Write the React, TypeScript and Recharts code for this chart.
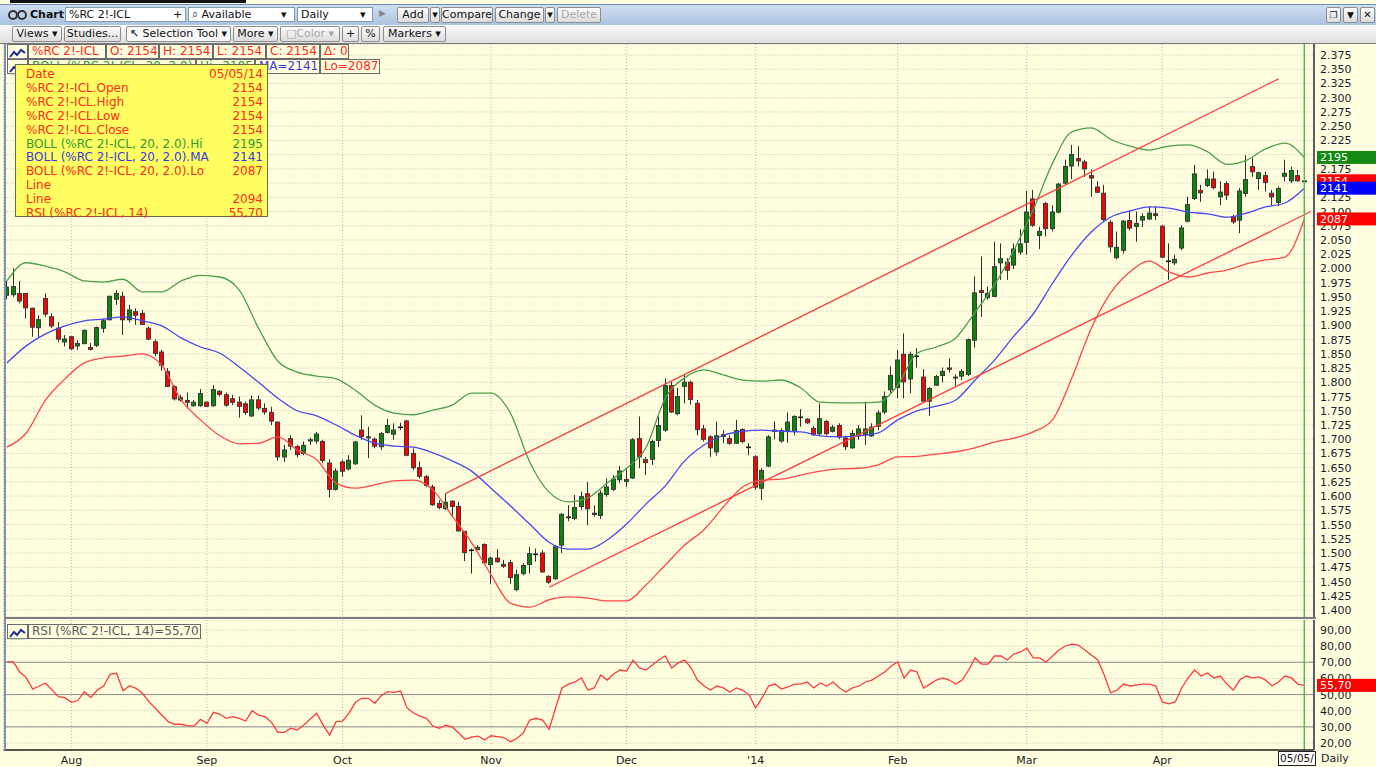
import React from "react";
import { Bar, CartesianGrid, ComposedChart, Line, ReferenceLine, XAxis, YAxis } from "recharts";

// daily OHLC, late Jul 2013 -> 05/05/14
const OPEN = [
  1952, 1953, 1957, 1957, 1931, 1895, 1948, 1916, 1896, 1870,
  1881, 1863, 1867, 1862, 1864, 1894, 1909, 1945, 1952, 1909,
  1925, 1922, 1896, 1872, 1854, 1820, 1793, 1768, 1769, 1758,
  1758, 1766, 1758, 1785, 1779, 1772, 1766, 1763, 1740, 1770,
  1755, 1748, 1731, 1668, 1702, 1688, 1674, 1696, 1696, 1697,
  1659, 1611, 1661, 1647, 1656, 1717, 1705, 1701, 1686, 1711,
  1708, 1722, 1733, 1676, 1651, 1635, 1617, 1588, 1577, 1592,
  1583, 1539, 1505, 1505, 1516, 1479, 1492, 1481, 1484, 1435,
  1463, 1479, 1498, 1501, 1460, 1454, 1513, 1563, 1560, 1581,
  1605, 1571, 1565, 1602, 1611, 1628, 1625, 1631, 1702, 1665,
  1664, 1697, 1715, 1795, 1744, 1792, 1801, 1764, 1719, 1705,
  1677, 1709, 1702, 1692, 1718, 1686, 1670, 1613, 1652, 1713,
  1696, 1713, 1713, 1739, 1736, 1720, 1709, 1732, 1713, 1725,
  1703, 1684, 1705, 1707, 1705, 1722, 1747, 1786, 1790, 1850,
  1805, 1846, 1810, 1766, 1794, 1811, 1826, 1810, 1810, 1813,
  1873, 1962, 1948, 1950, 2009, 2012, 2005, 2028, 2045, 2123,
  2057, 2115, 2069, 2098, 2149, 2179, 2194, 2188, 2164, 2144,
  2133, 2082, 2018, 2031, 2085, 2073, 2084, 2086, 2097, 2075,
  2013, 2009, 2035, 2082, 2122, 2138, 2145, 2158, 2125, 2150,
  2092, 2084, 2131, 2180, 2157, 2164, 2133, 2115, 2161, 2153,
  2164, 2154
];
const HIGH = [
  1978, 2000, 1978, 1957, 1931, 1918, 1956, 1921, 1906, 1883,
  1881, 1874, 1893, 1869, 1898, 1912, 1952, 1962, 1959, 1936,
  1930, 1927, 1898, 1875, 1857, 1825, 1795, 1778, 1782, 1769,
  1788, 1766, 1795, 1786, 1782, 1778, 1775, 1766, 1777, 1777,
  1763, 1757, 1731, 1690, 1707, 1690, 1696, 1703, 1713, 1699,
  1665, 1649, 1664, 1672, 1697, 1742, 1722, 1703, 1713, 1736,
  1728, 1729, 1734, 1684, 1661, 1637, 1620, 1593, 1605, 1593,
  1590, 1539, 1508, 1514, 1517, 1494, 1507, 1488, 1488, 1471,
  1482, 1511, 1508, 1505, 1461, 1514, 1570, 1584, 1602, 1608,
  1625, 1584, 1610, 1631, 1637, 1653, 1647, 1702, 1740, 1669,
  1699, 1740, 1807, 1801, 1790, 1813, 1803, 1769, 1725, 1707,
  1731, 1716, 1707, 1734, 1719, 1693, 1672, 1649, 1707, 1731,
  1719, 1747, 1742, 1753, 1737, 1723, 1763, 1734, 1725, 1728,
  1706, 1716, 1725, 1766, 1728, 1751, 1784, 1828, 1857, 1886,
  1854, 1860, 1823, 1792, 1813, 1826, 1842, 1814, 1823, 1877,
  1986, 2021, 1968, 2047, 2044, 2018, 2044, 2069, 2136, 2138,
  2073, 2117, 2111, 2150, 2191, 2217, 2215, 2191, 2174, 2153,
  2147, 2085, 2065, 2085, 2102, 2100, 2097, 2109, 2109, 2076,
  2044, 2024, 2076, 2126, 2182, 2147, 2174, 2170, 2153, 2153,
  2094, 2141, 2199, 2194, 2170, 2170, 2138, 2144, 2191, 2179,
  2173, 2154
];
const LOW = [
  1946, 1950, 1939, 1912, 1880, 1879, 1915, 1895, 1871, 1863,
  1857, 1857, 1867, 1856, 1862, 1887, 1909, 1936, 1883, 1905,
  1901, 1901, 1874, 1846, 1820, 1792, 1768, 1766, 1754, 1757,
  1757, 1757, 1757, 1775, 1757, 1760, 1738, 1743, 1739, 1751,
  1743, 1725, 1662, 1660, 1681, 1668, 1672, 1690, 1692, 1658,
  1598, 1610, 1634, 1645, 1655, 1699, 1667, 1684, 1681, 1710,
  1699, 1716, 1670, 1646, 1631, 1616, 1583, 1577, 1576, 1564,
  1538, 1486, 1464, 1505, 1480, 1446, 1483, 1474, 1446, 1433,
  1461, 1464, 1485, 1465, 1446, 1453, 1500, 1556, 1558, 1576,
  1549, 1564, 1560, 1599, 1609, 1623, 1616, 1630, 1649, 1637,
  1655, 1686, 1713, 1746, 1742, 1763, 1761, 1707, 1696, 1669,
  1671, 1693, 1690, 1692, 1693, 1672, 1611, 1593, 1651, 1700,
  1694, 1694, 1707, 1722, 1727, 1706, 1707, 1707, 1712, 1700,
  1681, 1683, 1699, 1690, 1704, 1716, 1744, 1781, 1772, 1772,
  1781, 1826, 1766, 1741, 1794, 1800, 1817, 1794, 1804, 1811,
  1861, 1915, 1945, 1950, 1980, 1980, 1999, 2024, 2024, 2073,
  2034, 2056, 2065, 2097, 2147, 2157, 2179, 2161, 2126, 2132,
  2082, 2028, 2016, 2026, 2067, 2047, 2073, 2085, 2085, 2018,
  1980, 2006, 2032, 2081, 2120, 2117, 2143, 2139, 2111, 2120,
  2078, 2062, 2126, 2161, 2138, 2135, 2111, 2110, 2153, 2150,
  2153, 2154
];
const CLOSE = [
  1968, 1969, 1942, 1930, 1896, 1911, 1919, 1898, 1875, 1877,
  1858, 1869, 1892, 1857, 1897, 1909, 1952, 1957, 1909, 1928,
  1917, 1901, 1875, 1850, 1829, 1792, 1770, 1774, 1764, 1766,
  1781, 1757, 1788, 1778, 1759, 1764, 1757, 1746, 1770, 1754,
  1747, 1731, 1668, 1682, 1687, 1672, 1690, 1700, 1710, 1662,
  1611, 1645, 1643, 1664, 1696, 1704, 1704, 1687, 1711, 1725,
  1717, 1722, 1671, 1649, 1634, 1618, 1584, 1579, 1590, 1581,
  1538, 1500, 1505, 1511, 1482, 1492, 1484, 1476, 1456, 1463,
  1479, 1500, 1498, 1466, 1448, 1512, 1569, 1563, 1581, 1600,
  1577, 1567, 1606, 1617, 1631, 1645, 1630, 1700, 1668, 1658,
  1697, 1725, 1795, 1747, 1776, 1801, 1769, 1716, 1699, 1684,
  1707, 1704, 1692, 1716, 1695, 1686, 1615, 1646, 1705, 1717,
  1716, 1731, 1741, 1739, 1728, 1707, 1737, 1709, 1722, 1703,
  1686, 1711, 1719, 1719, 1722, 1747, 1776, 1813, 1840, 1800,
  1850, 1846, 1766, 1790, 1811, 1820, 1822, 1807, 1820, 1876,
  1958, 1957, 1957, 2004, 2018, 1996, 2035, 2044, 2100, 2075,
  2066, 2069, 2100, 2149, 2180, 2201, 2188, 2174, 2158, 2133,
  2085, 2037, 2038, 2084, 2070, 2080, 2092, 2098, 2092, 2019,
  2013, 2017, 2072, 2113, 2167, 2132, 2158, 2141, 2135, 2128,
  2081, 2137, 2157, 2169, 2169, 2150, 2125, 2141, 2168, 2173,
  2153, 2154
];

// Bollinger (20, 2.0), read every third session
const BAND_IDX = Array.from({ length: 68 }, (_, k) => k * 3);
const BOLL_HI = [
  1978, 2010, 2004, 1994, 1978, 1976, 1981, 1959, 1959, 1978, 1988, 1985, 1962, 1895, 1837, 1818, 1811,
  1806, 1786, 1760, 1746, 1743, 1751, 1760, 1781, 1781, 1746, 1660, 1607, 1590, 1597, 1623, 1649, 1685,
  1772, 1808, 1822, 1813, 1804, 1802, 1804, 1790, 1765, 1764, 1764, 1765, 1795, 1851, 1862, 1878, 1923,
  1971, 2032, 2103, 2185, 2240, 2247, 2227, 2215, 2208, 2215, 2217, 2205, 2183, 2190, 2210, 2220, 2195
];
const BOLL_MA = [
  1834, 1864, 1885, 1899, 1908, 1911, 1915, 1908, 1899, 1878, 1862, 1851, 1827, 1800, 1772, 1750, 1741,
  1725, 1707, 1693, 1688, 1686, 1676, 1662, 1644, 1614, 1583, 1551, 1519, 1507, 1507, 1523, 1551, 1586,
  1618, 1662, 1690, 1707, 1714, 1716, 1714, 1713, 1706, 1704, 1706, 1711, 1734, 1750, 1758, 1769, 1804,
  1839, 1881, 1920, 1974, 2024, 2064, 2090, 2101, 2108, 2106, 2099, 2096, 2090, 2097, 2108, 2115, 2141
];
const BOLL_LO = [
  1686, 1711, 1769, 1806, 1834, 1843, 1846, 1850, 1830, 1769, 1734, 1706, 1692, 1693, 1704, 1681, 1664,
  1623, 1614, 1620, 1627, 1628, 1611, 1565, 1518, 1462, 1412, 1405, 1418, 1423, 1421, 1416, 1416, 1444,
  1479, 1514, 1541, 1581, 1616, 1628, 1630, 1637, 1644, 1648, 1649, 1655, 1669, 1670, 1674, 1678, 1685,
  1695, 1702, 1713, 1734, 1808, 1895, 1957, 1994, 2013, 1994, 1985, 1992, 1997, 2008, 2015, 2020, 2087
];

const RSI = [
  70.4, 70.2, 64.0, 60.5, 53.4, 55.3, 57.0, 52.8, 48.7, 48.1,
  45.2, 46.3, 51.8, 48.1, 52.8, 55.3, 62.6, 63.2, 52.4, 55.5,
  53.9, 50.8, 45.6, 41.5, 37.3, 33.2, 31.6, 31.6, 30.7, 30.5,
  34.7, 32.2, 39.0, 37.8, 35.3, 36.3, 35.3, 33.6, 40.0, 37.3,
  36.3, 32.8, 26.6, 26.6, 29.1, 28.0, 31.1, 34.9, 38.4, 31.1,
  24.9, 33.2, 33.6, 38.4, 45.2, 47.7, 47.7, 44.6, 49.3, 51.8,
  51.4, 52.2, 41.7, 38.6, 36.7, 35.3, 30.5, 29.1, 31.1, 29.9,
  26.2, 22.3, 23.7, 24.3, 21.9, 24.5, 24.0, 23.4, 20.8, 22.8,
  26.2, 34.2, 35.3, 34.2, 28.5, 41.7, 54.1, 56.5, 57.8, 60.3,
  52.8, 54.1, 62.1, 59.0, 62.7, 65.2, 64.6, 71.4, 66.5, 65.2,
  68.3, 71.4, 73.9, 66.5, 69.6, 71.4, 66.5, 59.0, 55.3, 52.8,
  55.3, 54.1, 51.6, 54.1, 52.8, 49.7, 41.7, 47.9, 55.3, 56.5,
  53.4, 54.7, 56.5, 56.5, 57.8, 54.1, 57.2, 55.3, 57.8, 54.1,
  51.6, 54.1, 55.3, 57.8, 59.0, 61.5, 64.0, 67.7, 70.2, 60.3,
  65.2, 64.0, 54.1, 56.5, 59.0, 60.3, 59.0, 56.5, 59.0, 65.2,
  72.7, 68.9, 68.9, 73.9, 73.9, 71.4, 75.1, 76.4, 78.8, 72.7,
  72.7, 70.2, 73.9, 77.6, 80.1, 81.3, 80.7, 77.6, 74.5, 71.4,
  62.1, 51.0, 52.8, 56.5, 55.3, 55.9, 56.5, 56.5, 55.3, 45.4,
  44.2, 45.4, 54.1, 60.3, 65.2, 61.5, 63.4, 60.3, 61.5, 56.5,
  52.8, 59.0, 61.5, 60.3, 60.9, 59.0, 55.3, 57.8, 61.5, 60.3,
  56.5, 55.7
];

// hand-drawn trend lines: [session, price]
const TREND_UPPER = [[68, 1605], [197, 2333]];
const TREND_LOWER = [[84, 1440], [202, 2100]];

// last-value tags on the price scale
const PRICE_TAGS: [number, string, string][] = [
  [2195, "2195", "#138a13"],
  [2154, "2154", "#ff0000"],
  [2141, "2141", "#0000ff"],
  [2087, "2087", "#ff0000"]
];
const RSI_TAG: [number, string, string] = [55.7, "55,70", "#ff0000"];

const MONTH_TICKS = [10, 31, 52, 75, 96, 116, 138, 158, 179];
const MONTH_LABELS = ["Aug", "Sep", "Oct", "Nov", "Dec", "'14", "Feb", "Mar", "Apr"];
const PRICE_TICKS = Array.from({ length: 40 }, (_, k) => 1400 + k * 25);
const RSI_TICKS = [20, 30, 40, 50, 60, 70, 80, 90];
const RSI_SOLID = [30, 50, 70];
const LAST = OPEN.length - 1;

const BG = "#ffffe0";
const FONT = "'DejaVu Sans', Verdana, sans-serif";
const PLOT_LEFT = 3.62;
const AXIS_W = 62;
const PRICE_DOMAIN = [1387.7, 2394.3];
const RSI_DOMAIN = [15.66, 96.2];

type Row = {
  i: number;
  open?: number;
  high?: number;
  low?: number;
  close?: number;
  rsi?: number;
  hi?: number;
  ma?: number;
  lo?: number;
};

const ROWS: Row[] = Array.from({ length: OPEN.length + 1 }, (_, i) =>
  i < OPEN.length
    ? { i, open: OPEN[i], high: HIGH[i], low: LOW[i], close: CLOSE[i], rsi: RSI[i] }
    : { i }
);
BAND_IDX.forEach((idx, k) => {
  ROWS[idx].hi = BOLL_HI[k];
  ROWS[idx].ma = BOLL_MA[k];
  ROWS[idx].lo = BOLL_LO[k];
});

function fmtPrice(v: number) {
  return `${Math.floor(v / 1000)}.${String(v % 1000).padStart(3, "0")}`;
}

function Candle(props: any) {
  const { x, y, width, height, payload } = props;
  if (!payload || payload.high == null) return null;
  const { open, close, high, low } = payload;
  const k = high > low ? height / (high - low) : 0;
  const at = (v: number) => y + (high - v) * k;
  const px = Math.round(x + width / 2 - 0.5);
  const top = at(Math.max(open, close));
  const bot = at(Math.min(open, close));
  if (open === close) {
    return (
      <g>
        <rect x={px} y={y} width={1} height={Math.max(height, 1)} fill="#2a2a2a" />
        <rect x={px - 2} y={Math.round(top) - 0.5} width={5} height={1.6} fill="#1a1a1a" />
      </g>
    );
  }
  const up = close > open;
  return (
    <g>
      <rect x={px} y={y} width={1} height={height} fill="#2e2e2e" />
      <rect
        x={px - 1.5}
        y={top + 0.5}
        width={4}
        height={Math.max(bot - top - 1, 1)}
        fill={up ? "#0b860b" : "#ff0000"}
        stroke="#3a3a3a"
        strokeWidth={1}
      />
    </g>
  );
}

function PriceTick({ y, payload }: any) {
  return (
    <text x={1320} y={y + 4} fontSize={11} fontFamily={FONT} fill="#1c1c2c">
      {fmtPrice(payload.value)}
    </text>
  );
}

function RsiTick({ y, payload }: any) {
  return (
    <text x={1320} y={y + 4} fontSize={11} fontFamily={FONT} fill="#1c1c2c">
      {payload.value.toFixed(2).replace(".", ",")}
    </text>
  );
}

function MonthTick({ x, y, payload }: any) {
  return (
    <text x={x} y={y + 12} textAnchor="middle" fontSize={11} fontFamily={FONT} fill="#1a1a2a">
      {MONTH_LABELS[MONTH_TICKS.indexOf(payload.value)]}
    </text>
  );
}

function PriceTag({ viewBox, text, fill }: any) {
  if (!viewBox) return null;
  const y = viewBox.y;
  return (
    <g>
      <rect x={1317} y={y - 6.5} width={59} height={13} fill={fill} />
      <text x={1320} y={y + 4} fontSize={11} fontFamily={FONT} fill="#ffffff">
        {text}
      </text>
    </g>
  );
}

// transparent chart laid over a panel so the value tags sit above the scale labels
function TagOverlay({ top, height, domain, tags }: any) {
  return (
    <div style={{ position: "absolute", left: 0, top, pointerEvents: "none" }}>
      <ComposedChart width={1376} height={height} data={ROWS} margin={{ top: 0, right: 0, bottom: 0, left: PLOT_LEFT }}>
        <XAxis dataKey="i" type="category" scale="band" hide />
        <YAxis
          orientation="right"
          width={AXIS_W}
          domain={domain}
          allowDataOverflow
          tick={false}
          tickLine={false}
          axisLine={false}
        />
        {tags.map(([v, text, fill]: [number, string, string]) => (
          <ReferenceLine key={text} y={v} stroke="none" label={<PriceTag text={text} fill={fill} />} />
        ))}
      </ComposedChart>
    </div>
  );
}

function Btn({ left, top, width, height = 16, children, disabled, style }: any) {
  return (
    <div
      style={{
        position: "absolute",
        left,
        top,
        width,
        height,
        boxSizing: "border-box",
        border: "1px solid #8d8d8d",
        borderRadius: 2,
        background: "linear-gradient(#fefefe, #dcdcdc)",
        fontSize: 11,
        lineHeight: `${height - 2}px`,
        color: disabled ? "#a8a8a8" : "#111",
        textAlign: "center",
        whiteSpace: "nowrap",
        overflow: "hidden",
        ...style
      }}
    >
      {children}
    </div>
  );
}

function Field({ left, top, width, children }: any) {
  return (
    <div
      style={{
        position: "absolute",
        left,
        top,
        width,
        height: 15,
        boxSizing: "border-box",
        border: "1px solid #7f9db9",
        background: "#ffffff",
        fontSize: 11,
        lineHeight: "13px",
        paddingLeft: 3,
        color: "#111",
        whiteSpace: "nowrap",
        overflow: "hidden"
      }}
    >
      {children}
    </div>
  );
}

function LegendBox({ left, top, width, color, children }: any) {
  return (
    <div
      style={{
        position: "absolute",
        left,
        top,
        width,
        height: 15,
        boxSizing: "border-box",
        border: "1px solid #6b6b6b",
        background: BG,
        fontSize: 12,
        lineHeight: "13px",
        paddingLeft: 3,
        color,
        whiteSpace: "nowrap",
        overflow: "hidden"
      }}
    >
      {children}
    </div>
  );
}

function StudyIcon({ left, top }: any) {
  return (
    <div
      style={{
        position: "absolute",
        left,
        top,
        width: 21,
        height: 15,
        boxSizing: "border-box",
        border: "1px solid #6b6b6b",
        background: BG
      }}
    >
      <svg width={19} height={13}>
        <polyline points="2,10 6,5 9,8 13,3 17,6" fill="none" stroke="#1b2a9a" strokeWidth={2} />
        <line x1={2} y1={12} x2={17} y2={12} stroke="#9aa" strokeWidth={1} />
      </svg>
    </div>
  );
}

const TOOLTIP_ROWS: [string, string, string][] = [
  ["Date", "05/05/14", "#ff2a1a"],
  ["%RC 2!-ICL.Open", "2154", "#ff2a1a"],
  ["%RC 2!-ICL.High", "2154", "#ff2a1a"],
  ["%RC 2!-ICL.Low", "2154", "#ff2a1a"],
  ["%RC 2!-ICL.Close", "2154", "#ff2a1a"],
  ["BOLL (%RC 2!-ICL, 20, 2.0).Hi", "2195", "#2f9a2f"],
  ["BOLL (%RC 2!-ICL, 20, 2.0).MA", "2141", "#3a3ad8"],
  ["BOLL (%RC 2!-ICL, 20, 2.0).Lo", "2087", "#ff2a1a"],
  ["Line", "", "#ff2a1a"],
  ["Line", "2094", "#ff2a1a"],
  ["RSI (%RC 2!-ICL, 14)", "55,70", "#ff2a1a"]
];

export default function App() {
  return (
    <div
      style={{
        position: "fixed",
        left: 0,
        top: 0,
        width: 1376,
        height: 767,
        overflow: "hidden",
        background: BG,
        fontFamily: FONT
      }}
    >
      {/* toolbar row 1 */}
      <div style={{ position: "absolute", left: 10, top: 0, width: 236, height: 3, background: "#111" }} />
      <div
        style={{
          position: "absolute",
          left: 0,
          top: 4,
          width: 1376,
          height: 21,
          background: "linear-gradient(#cfdff1, #a9c2e0)",
          borderTop: "1px solid #6f8fb8"
        }}
      />
      <svg style={{ position: "absolute", left: 8, top: 9 }} width={20} height={12}>
        <circle cx={5} cy={6} r={4} fill="none" stroke="#333" strokeWidth={2} />
        <circle cx={14} cy={6} r={4} fill="none" stroke="#333" strokeWidth={2} />
      </svg>
      <div style={{ position: "absolute", left: 30, top: 8, fontSize: 11, fontWeight: "bold", color: "#111" }}>Chart</div>
      <Field left={65} top={7} width={121}>
        %RC 2!-ICL<span style={{ position: "absolute", left: 107 }}>+</span>
      </Field>
      <Field left={188} top={7} width={107}>
        <span style={{ color: "#555" }}>⌕</span> Available<span style={{ position: "absolute", left: 92 }}>▾</span>
      </Field>
      <Field left={297} top={7} width={76}>
        Daily<span style={{ position: "absolute", left: 62 }}>▾</span>
      </Field>
      <div style={{ position: "absolute", left: 379, top: 8, fontSize: 9, color: "#888" }}>▶</div>
      <Btn left={397} top={7} width={32}>Add</Btn>
      <Btn left={430} top={7} width={10}>▾</Btn>
      <Btn left={441} top={7} width={52}>Compare</Btn>
      <Btn left={495} top={7} width={49}>Change</Btn>
      <Btn left={545} top={7} width={10}>▾</Btn>
      <Btn left={557} top={7} width={44} disabled>Delete</Btn>
      <Btn left={1326} top={7} width={15} style={{ fontSize: 9 }}>❐</Btn>
      <Btn left={1343} top={7} width={15} style={{ fontSize: 9 }}>▼</Btn>
      <Btn left={1360} top={7} width={15} style={{ fontSize: 10, fontWeight: "bold" }}>✕</Btn>

      {/* toolbar row 2 */}
      <div
        style={{
          position: "absolute",
          left: 0,
          top: 25,
          width: 1376,
          height: 18,
          background: "linear-gradient(#fbfbfb, #dedede)",
          borderBottom: "1px solid #7a7a7a"
        }}
      />
      <Btn left={12} top={26} width={50}>Views ▾</Btn>
      <Btn left={64} top={26} width={57}>Studies...</Btn>
      <Btn left={126} top={26} width={105} style={{ background: "#f8f8f8" }}>↖ Selection Tool ▾</Btn>
      <Btn left={233} top={26} width={45}>More ▾</Btn>
      <Btn left={280} top={26} width={60} disabled>□Color ▾</Btn>
      <Btn left={342} top={26} width={17}>+</Btn>
      <Btn left={361} top={26} width={19}>%</Btn>
      <Btn left={383} top={26} width={63}>Markers ▾</Btn>

      {/* price panel */}
      <div style={{ position: "absolute", left: 0, top: 44 }}>
        <ComposedChart
          width={1376}
          height={573}
          data={ROWS}
          margin={{ top: 0, right: 0, bottom: 0, left: PLOT_LEFT }}
          barCategoryGap={0}
        >
          <CartesianGrid stroke="#b9b9b9" strokeDasharray="1 2" />
          <XAxis dataKey="i" type="category" scale="band" ticks={MONTH_TICKS} interval={0} hide />
          <YAxis
            orientation="right"
            width={AXIS_W}
            domain={PRICE_DOMAIN}
            allowDataOverflow
            ticks={PRICE_TICKS}
            interval={0}
            tick={<PriceTick />}
            tickLine={false}
            axisLine={{ stroke: "#5c5c66", strokeWidth: 2 }}
          />
          <Bar
            dataKey={(d: Row) => (d.high == null ? null : [d.low, d.high])}
            shape={<Candle />}
            isAnimationActive={false}
          />
          <Line dataKey="hi" type="monotone" connectNulls dot={false} stroke="#4aa04a" strokeWidth={1.3} isAnimationActive={false} />
          <Line dataKey="ma" type="monotone" connectNulls dot={false} stroke="#4848f0" strokeWidth={1.3} isAnimationActive={false} />
          <Line dataKey="lo" type="monotone" connectNulls dot={false} stroke="#ff4848" strokeWidth={1.3} isAnimationActive={false} />
          <ReferenceLine
            segment={TREND_UPPER.map(([x, y]) => ({ x, y }))}
            stroke="#ff3a3a"
            strokeWidth={1.3}
          />
          <ReferenceLine
            segment={TREND_LOWER.map(([x, y]) => ({ x, y }))}
            stroke="#ff3a3a"
            strokeWidth={1.3}
          />
          <ReferenceLine x={LAST} stroke="#5cb35c" strokeWidth={1.5} />
        </ComposedChart>
      </div>
      <TagOverlay top={44} height={573} domain={PRICE_DOMAIN} tags={PRICE_TAGS} />

      {/* RSI panel */}
      <div style={{ position: "absolute", left: 0, top: 620 }}>
        <ComposedChart
          width={1376}
          height={147}
          data={ROWS}
          margin={{ top: 0, right: 0, bottom: 0, left: PLOT_LEFT }}
          barCategoryGap={0}
        >
          <CartesianGrid stroke="#b9b9b9" strokeDasharray="1 2" />
          <XAxis
            dataKey="i"
            type="category"
            scale="band"
            ticks={MONTH_TICKS}
            interval={0}
            height={17}
            tickSize={0}
            tickLine={false}
            tick={<MonthTick />}
            axisLine={{ stroke: "#202020", strokeWidth: 1.5 }}
          />
          <YAxis
            orientation="right"
            width={AXIS_W}
            domain={RSI_DOMAIN}
            allowDataOverflow
            ticks={RSI_TICKS}
            interval={0}
            tick={<RsiTick />}
            tickLine={false}
            axisLine={{ stroke: "#5c5c66", strokeWidth: 2 }}
          />
          <Bar dataKey="rsi" fill="none" isAnimationActive={false} />
          {RSI_SOLID.map((v) => (
            <ReferenceLine key={v} y={v} stroke="#8e8e8e" strokeWidth={1} />
          ))}
          <Line dataKey="rsi" dot={false} stroke="#ff3a3a" strokeWidth={1.3} isAnimationActive={false} />
          <ReferenceLine x={LAST} stroke="#5cb35c" strokeWidth={1.5} />
        </ComposedChart>
      </div>
      <TagOverlay top={620} height={130} domain={RSI_DOMAIN} tags={[RSI_TAG]} />

      {/* frame */}
      <div style={{ position: "absolute", left: 4, top: 44, width: 2, height: 706, background: "#7b93b8" }} />
      <div style={{ position: "absolute", left: 4, top: 617, width: 1312, height: 2, background: "#7c7c84" }} />

      {/* legends */}
      <StudyIcon left={7} top={44} />
      <LegendBox left={28} top={44} width={78} color="#ff2a1a">%RC 2!-ICL</LegendBox>
      <LegendBox left={106} top={44} width={53} color="#ff2a1a">O: 2154</LegendBox>
      <LegendBox left={159} top={44} width={54} color="#ff2a1a">H: 2154</LegendBox>
      <LegendBox left={213} top={44} width={53} color="#ff2a1a">L: 2154</LegendBox>
      <LegendBox left={266} top={44} width={54} color="#ff2a1a">C: 2154</LegendBox>
      <LegendBox left={320} top={44} width={29} color="#ff2a1a">Δ: 0</LegendBox>
      <StudyIcon left={7} top={59} />
      <LegendBox left={28} top={59} width={168} color="#2f9a2f">BOLL (%RC 2!-ICL, 20, 2.0)</LegendBox>
      <LegendBox left={196} top={59} width={59} color="#2f9a2f">Hi=2195</LegendBox>
      <LegendBox left={255} top={59} width={65} color="#3a3ad8">MA=2141</LegendBox>
      <LegendBox left={320} top={59} width={60} color="#ff2a1a">Lo=2087</LegendBox>
      <StudyIcon left={7} top={624} />
      <LegendBox left={28} top={624} width={173} color="#5a5a5a">RSI (%RC 2!-ICL, 14)=55,70</LegendBox>

      {/* data window */}
      <div
        style={{
          position: "absolute",
          left: 15,
          top: 64,
          width: 253,
          height: 153,
          boxSizing: "border-box",
          border: "1px solid #6a6a4a",
          background: "#ffff62",
          fontSize: 12
        }}
      >
        {TOOLTIP_ROWS.map(([name, value, color], k) => (
          <div
            key={k}
            style={{
              position: "absolute",
              left: 10,
              right: 4,
              top: 2 + k * 13.9,
              height: 14,
              lineHeight: "14px",
              color,
              whiteSpace: "nowrap"
            }}
          >
            {name}
            <span style={{ position: "absolute", right: 0 }}>{value}</span>
          </div>
        ))}
      </div>

      {/* crosshair date + periodicity */}
      <div
        style={{
          position: "absolute",
          left: 1278,
          top: 751,
          width: 38,
          height: 15,
          boxSizing: "border-box",
          border: "1px solid #222",
          background: "#ffffff",
          fontSize: 10.5,
          lineHeight: "13px",
          paddingLeft: 1,
          overflow: "hidden",
          whiteSpace: "nowrap",
          color: "#111"
        }}
      >
        05/05/
      </div>
      <div style={{ position: "absolute", left: 1321, top: 752, fontSize: 11, color: "#1a1a2a" }}>Daily</div>
    </div>
  );
}
